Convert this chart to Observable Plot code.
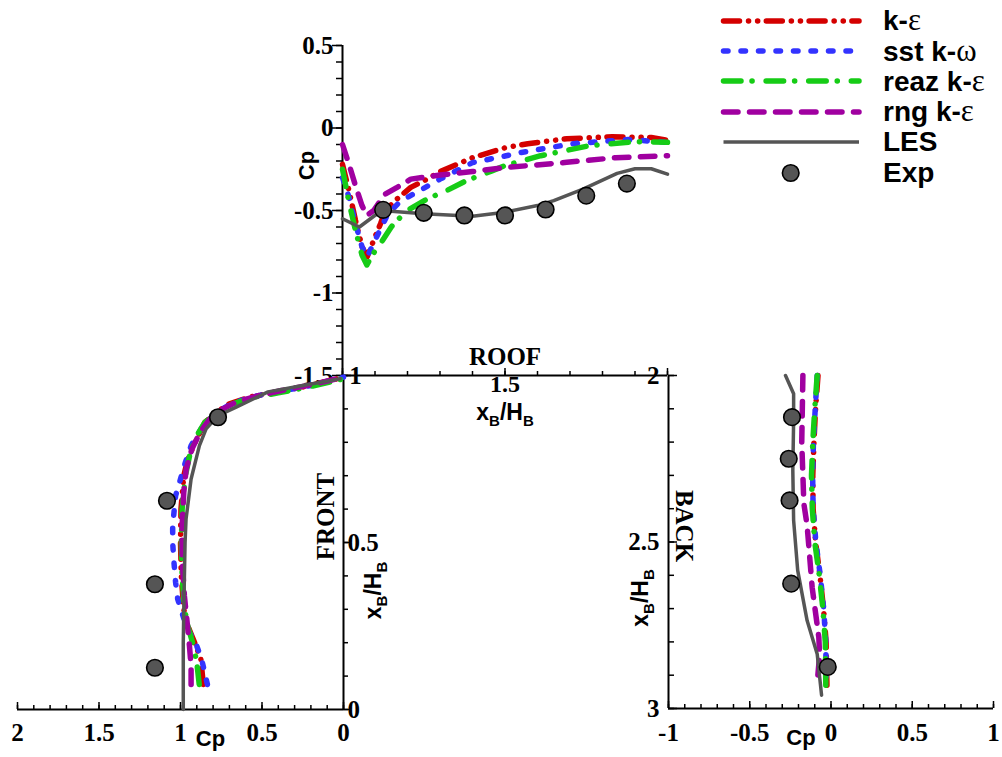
<!DOCTYPE html>
<html><head><meta charset="utf-8">
<script src="https://cdn.jsdelivr.net/npm/d3@7"></script>
<script src="https://cdn.jsdelivr.net/npm/@observablehq/plot@0.6"></script>
<style>
body{margin:0;background:#fff;}
#wrap{position:relative;width:1002px;height:757px;overflow:hidden;background:#fff;}
#legend{position:absolute;left:700px;top:5.5px;font-family:"Liberation Sans",Arial,sans-serif;font-weight:bold;font-size:28px;color:#000;}
#legend .row{display:flex;align-items:center;height:30.4px;}
#legend svg{display:block;}
#legend .lab{margin-left:18px;white-space:nowrap;line-height:30px;}
#legend .g{font-family:"Liberation Serif","Times New Roman",serif;font-weight:normal;font-size:31px;}
</style></head>
<body>
<div id="wrap"></div>
<script>
// ---------- DATA ----------
// ROOF: [x_B/H_B, Cp]
const roofKE = [[1.0,-0.22],[1.02,-0.38],[1.04,-0.56],[1.06,-0.72],[1.076,-0.78],[1.1,-0.66],[1.117,-0.58],[1.132,-0.5],[1.168,-0.43],[1.21,-0.36],[1.26,-0.31],[1.3,-0.265],[1.4,-0.18],[1.5,-0.12],[1.57,-0.095],[1.69,-0.065],[1.83,-0.053],[1.95,-0.058],[2.0,-0.075]];
const roofSST = [[1.0,-0.3],[1.02,-0.42],[1.04,-0.58],[1.06,-0.72],[1.076,-0.78],[1.1,-0.68],[1.12,-0.6],[1.14,-0.52],[1.17,-0.46],[1.2,-0.42],[1.3,-0.31],[1.4,-0.21],[1.5,-0.17],[1.55,-0.148],[1.71,-0.095],[1.88,-0.07],[2.0,-0.087]];
const roofREAZ = [[1.0,-0.25],[1.02,-0.45],[1.04,-0.62],[1.06,-0.77],[1.075,-0.83],[1.095,-0.76],[1.117,-0.7],[1.15,-0.6],[1.168,-0.56],[1.2,-0.5],[1.26,-0.43],[1.32,-0.38],[1.38,-0.32],[1.46,-0.26],[1.5,-0.228],[1.61,-0.168],[1.76,-0.107],[1.9,-0.083],[2.0,-0.087]];
const roofRNG = [[1.0,-0.1],[1.02,-0.22],[1.04,-0.35],[1.06,-0.47],[1.075,-0.53],[1.096,-0.5],[1.117,-0.44],[1.132,-0.4],[1.168,-0.36],[1.21,-0.31],[1.3,-0.285],[1.4,-0.264],[1.5,-0.24],[1.69,-0.208],[1.84,-0.18],[2.0,-0.168]];
const roofLES = [[1.0,-0.55],[1.052,-0.6],[1.12,-0.5],[1.25,-0.52],[1.4,-0.535],[1.5,-0.51],[1.6,-0.47],[1.65,-0.44],[1.74,-0.37],[1.845,-0.275],[1.9,-0.247],[1.95,-0.247],[2.0,-0.28]];
const roofExpX = [1.125,1.25,1.375,1.5,1.625,1.75,1.875];
const roofExpCp = [-0.496,-0.514,-0.53,-0.53,-0.494,-0.41,-0.337];

// FRONT: [x_B/H_B, Cp]
const frontKE = [[0.075,0.86],[0.15,0.875],[0.19,0.905],[0.25,0.955],[0.3,0.98],[0.4,0.995],[0.5,1.0],[0.6,0.997],[0.7,0.98],[0.75,0.955],[0.8,0.91],[0.86,0.85],[0.89,0.78],[0.915,0.7],[0.935,0.58],[0.95,0.42],[0.97,0.2],[0.995,0.0]];
const frontSST = [[0.075,0.835],[0.15,0.87],[0.19,0.9],[0.25,0.965],[0.33,1.017],[0.38,1.03],[0.44,1.04],[0.5,1.048],[0.55,1.048],[0.59,1.04],[0.64,1.03],[0.69,1.0],[0.74,0.97],[0.79,0.935],[0.84,0.874],[0.87,0.82],[0.895,0.76],[0.915,0.69],[0.935,0.57],[0.95,0.42],[0.97,0.2],[0.995,0.0]];
const frontREAZ = [[0.075,0.885],[0.14,0.9],[0.19,0.92],[0.25,0.955],[0.3,0.975],[0.4,0.99],[0.5,0.995],[0.6,0.99],[0.7,0.97],[0.77,0.94],[0.82,0.9],[0.86,0.85],[0.89,0.77],[0.915,0.68],[0.935,0.55],[0.948,0.4],[0.965,0.22],[0.99,0.0]];
const frontRNG = [[0.075,0.935],[0.13,0.935],[0.19,0.945],[0.24,0.955],[0.34,0.976],[0.45,0.99],[0.55,0.99],[0.65,0.98],[0.72,0.965],[0.78,0.93],[0.83,0.88],[0.87,0.82],[0.9,0.74],[0.92,0.66],[0.94,0.52],[0.955,0.38],[0.972,0.2],[0.995,0.0]];
const frontLES = [[0.0,0.983],[0.2,0.983],[0.35,0.978],[0.5,0.972],[0.57,0.966],[0.69,0.935],[0.79,0.884],[0.84,0.843],[0.88,0.77],[0.906,0.655],[0.951,0.463],[0.97,0.25],[0.99,0.02]];
const frontExpX = [0.125,0.375,0.625,0.875];
const frontExpCp = [1.157,1.157,1.083,0.77];

// BACK: [x_B/H_B, Cp]
const backKE = [[2.0,-0.08],[2.1,-0.095],[2.2,-0.105],[2.3,-0.112],[2.4,-0.11],[2.5,-0.095],[2.6,-0.068],[2.7,-0.046],[2.8,-0.03],[2.93,-0.025]];
const backSST = [[2.0,-0.085],[2.1,-0.097],[2.2,-0.108],[2.3,-0.113],[2.4,-0.11],[2.5,-0.093],[2.6,-0.066],[2.7,-0.045],[2.8,-0.032],[2.92,-0.03]];
const backREAZ = [[2.0,-0.085],[2.1,-0.1],[2.2,-0.112],[2.3,-0.12],[2.4,-0.115],[2.5,-0.1],[2.6,-0.072],[2.7,-0.05],[2.8,-0.035],[2.93,-0.032]];
const backRNG = [[2.0,-0.173],[2.2,-0.18],[2.385,-0.167],[2.45,-0.147],[2.636,-0.116],[2.786,-0.075],[2.84,-0.07],[2.906,-0.082]];
const backLES = [[2.0,-0.28],[2.055,-0.23],[2.135,-0.23],[2.285,-0.235],[2.435,-0.23],[2.585,-0.205],[2.736,-0.147],[2.836,-0.085],[2.96,-0.058]];
const backExpX = [2.125,2.25,2.375,2.625,2.875];
const backExpCp = [-0.24,-0.26,-0.255,-0.245,-0.02];

// axes / tick labels
const roofXDomain = [1, 2];
const roofYDomain = [-1.5, 0.5];
const roofXTicks = [1, 1.5, 2];
const roofYTicks = [0.5, 0, -0.5, -1, -1.5];
const frontCpDomain = [2, 0];
const frontYDomain = [0, 1];
const frontCpTicks = [2, 1.5, 1, 0.5, 0];
const frontYTicks = [0, 0.5, 1];
const backCpDomain = [-1, 1];
const backYDomain = [3, 2];
const backCpTicks = [-1, -0.5, 0, 0.5, 1];
const backYTicks = [2, 2.5, 3];

const seriesNames = ["k-ε", "sst k-ω", "reaz k-ε", "rng k-ε", "LES", "Exp"];

// ---------- STYLE ----------
const W = 1002, H = 757;
const SERIF = "Liberation Serif, Times New Roman, serif";
const SANS = "Liberation Sans, Arial, sans-serif";
const lineBase = {strokeWidth: 5.5, strokeLinecap: "round", strokeLinejoin: "round"};
const sty = {
  ke:   {...lineBase, stroke: "#d40000", strokeDasharray: "16 9 0.1 9 0.1 8.6"},
  sst:  {...lineBase, stroke: "#3333ff", strokeDasharray: "4.5 13"},
  reaz: {...lineBase, stroke: "#16cc16", strokeDasharray: "17.5 11 0.1 14"},
  rng:  {...lineBase, stroke: "#a000a0", strokeDasharray: "14.5 11.5"},
  les:  {stroke: "#555555", strokeWidth: 3.5, strokeLinejoin: "round"},
  exp:  {fill: "#555555", stroke: "#000", strokeWidth: 1.6, r: 8.3}
};
const tickLbl = {fontFamily: SERIF, fontWeight: "bold", fontSize: 25, fill: "#000", lineAnchor: "middle"};
const ttlSans = {fontFamily: SANS, fontWeight: "bold", fontSize: 22, fill: "#000", lineAnchor: "middle", textAnchor: "middle"};
const ttlSerif = {fontFamily: SERIF, fontWeight: "bold", fontSize: 25, fill: "#000", lineAnchor: "middle", textAnchor: "middle"};
const axStroke = {stroke: "#000", strokeWidth: 2};
const tkStroke = {stroke: "#000", strokeWidth: 1.5};
const sub = "xB/HB";

function minorOf(a, b) { return d3.range(Math.round(Math.min(a,b)*10), Math.round(Math.max(a,b)*10)+1).map(v => v/10); }

function seriesMarks(set, fx, fy, expX, expY) {
  return [
    Plot.line(set[0], {x: fx, y: fy, ...sty.ke}),
    Plot.line(set[1], {x: fx, y: fy, ...sty.sst}),
    Plot.line(set[2], {x: fx, y: fy, ...sty.reaz}),
    Plot.line(set[3], {x: fx, y: fy, ...sty.rng}),
    Plot.line(set[4], {x: fx, y: fy, ...sty.les}),
    Plot.dot(expX.map((v, i) => ({a: v, cp: expY[i]})), {x: fx.exp, y: fy.exp, ...sty.exp})
  ];
}

function panel(opts) {
  const svg = Plot.plot({
    width: W, height: H,
    marginLeft: opts.m[0], marginRight: opts.m[1], marginTop: opts.m[2], marginBottom: opts.m[3],
    x: {domain: opts.x, axis: null},
    y: {domain: opts.y, axis: null},
    style: {background: "transparent", overflow: "visible"},
    marks: opts.marks
  });
  svg.style.position = "absolute"; svg.style.left = "0px"; svg.style.top = "0px";
  return svg;
}

// ---------- ROOF ----------
const rfW = 325, rfH = 330;
const fxR = d => d[0]; fxR.exp = d => d.a;
const fyR = d => d[1]; fyR.exp = d => d.cp;
const roof = panel({
  m: [342, 335, 45, 382], x: roofXDomain, y: roofYDomain,
  marks: [
    Plot.ruleY(minorOf(-1.5, 0.5), {y: d => d, insetLeft: -6, insetRight: rfW, ...tkStroke}),
    Plot.ruleY(roofYTicks, {y: d => d, insetLeft: -10, insetRight: rfW, ...tkStroke}),
    Plot.ruleX(minorOf(1, 2), {x: d => d, insetTop: rfH - 4, ...tkStroke}),
    Plot.ruleX(roofXTicks, {x: d => d, insetTop: rfH - 7, ...tkStroke}),
    Plot.ruleX([roofXDomain[0]], {x: d => d, ...axStroke}),
    Plot.ruleY([roofYDomain[0]], {y: d => d, ...axStroke}),
    Plot.text(roofYTicks, {y: d => d, frameAnchor: "left", dx: -9, textAnchor: "end", text: d => String(d), ...tickLbl}),
    // "1" is shared with the FRONT axis; "2" is shared with the BACK axis (drawn there)
    Plot.text(roofXTicks.slice(0, 1), {x: d => d, frameAnchor: "bottom", dx: 13, textAnchor: "middle", text: d => String(d), ...tickLbl}),
    Plot.text(roofXTicks.slice(1, 2), {x: d => d, frameAnchor: "bottom", dy: 9, textAnchor: "middle", text: d => String(d), ...tickLbl, fontSize: 24}),
    Plot.text(["ROOF"], {frameAnchor: "bottom", dy: -19, text: d => d, ...ttlSerif}),
    Plot.text([sub], {frameAnchor: "bottom", dy: 37, text: d => d, ...ttlSans, fontSize: 23}),
    Plot.text(["Cp"], {frameAnchor: "left", dx: -36, dy: -45, rotate: -90, text: d => d, ...ttlSans}),
    ...seriesMarks([roofKE, roofSST, roofREAZ, roofRNG, roofLES], fxR, fyR, roofExpX, roofExpCp)
  ]
});

// ---------- FRONT ----------
const ftW = 326, ftH = 334;
const fxF = d => d[1]; fxF.exp = d => d.cp;
const fyF = d => d[0]; fyF.exp = d => d.a;
const front = panel({
  m: [17, 659, 375, 48], x: frontCpDomain, y: frontYDomain,
  marks: [
    Plot.ruleY(minorOf(0, 1), {y: d => d, insetLeft: ftW, insetRight: -5, ...tkStroke}),
    Plot.ruleY(frontYTicks, {y: d => d, insetLeft: ftW, insetRight: -8, ...tkStroke}),
    Plot.ruleX(minorOf(0, 2), {x: d => d, insetTop: ftH - 4, ...tkStroke}),
    Plot.ruleX(frontCpTicks, {x: d => d, insetTop: ftH - 7, ...tkStroke}),
    Plot.ruleX([frontCpDomain[1]], {x: d => d, ...axStroke}),
    Plot.ruleY([frontYDomain[0]], {y: d => d, ...axStroke}),
    Plot.text(frontCpTicks, {x: d => d, frameAnchor: "bottom", dy: 23, textAnchor: "middle", text: d => String(d), ...tickLbl}),
    Plot.text(frontYTicks.slice(0, 2), {y: d => d, frameAnchor: "right", dx: 4, textAnchor: "start", text: d => String(d), ...tickLbl}),
    Plot.text(["Cp"], {frameAnchor: "bottom", dx: 30, dy: 29, text: d => d, ...ttlSans}),
    Plot.text(["FRONT"], {frameAnchor: "right", dx: -18, dy: -26, rotate: -90, text: d => d, ...ttlSerif}),
    Plot.text([sub], {frameAnchor: "right", dx: 30, dy: 48, rotate: -90, text: d => d, ...ttlSans, fontSize: 23}),
    ...seriesMarks([frontKE, frontSST, frontREAZ, frontRNG, frontLES], fxF, fyF, frontExpX, frontExpCp)
  ]
});

// ---------- BACK ----------
const bkW = 325, bkH = 333;
const back = panel({
  m: [668, 9, 375, 49], x: backCpDomain, y: backYDomain,
  marks: [
    Plot.ruleY(minorOf(2, 3), {y: d => d, insetRight: bkW - 6, ...tkStroke}),
    Plot.ruleY(backYTicks, {y: d => d, insetRight: bkW - 9, ...tkStroke}),
    Plot.ruleX(minorOf(-1, 1), {x: d => d, insetTop: bkH - 4, ...tkStroke}),
    Plot.ruleX(backCpTicks, {x: d => d, insetTop: bkH - 7, ...tkStroke}),
    Plot.ruleX([backCpDomain[0]], {x: d => d, ...axStroke}),
    Plot.ruleY([backYDomain[0]], {y: d => d, ...axStroke}),
    Plot.text(backCpTicks, {x: d => d, frameAnchor: "bottom", dy: 24, textAnchor: "middle", text: d => String(d), ...tickLbl}),
    Plot.text(backYTicks, {y: d => d, frameAnchor: "left", dx: -9, textAnchor: "end", text: d => String(d), ...tickLbl}),
    Plot.text(["Cp"], {frameAnchor: "bottom", dx: -30, dy: 29, text: d => d, ...ttlSans}),
    Plot.text(["BACK"], {frameAnchor: "left", dx: 15, dy: -16, rotate: 90, text: d => d, ...ttlSerif}),
    Plot.text([sub], {frameAnchor: "left", dx: -28, dy: 56, rotate: -90, text: d => d, ...ttlSans, fontSize: 23}),
    ...seriesMarks([backKE, backSST, backREAZ, backRNG, backLES], fxF, fyF, backExpX, backExpCp)
  ]
});

const wrap = document.getElementById("wrap");
[roof, front, back].forEach(s => wrap.appendChild(s));

// subscripts for x_B/H_B
d3.select(wrap).selectAll("text").filter(function() { return this.textContent === sub; }).each(function() {
  const t = d3.select(this);
  t.text(null);
  t.append("tspan").text("x");
  t.append("tspan").attr("font-size", 15).attr("dy", 6).text("B");
  t.append("tspan").attr("dy", -6).text("/H");
  t.append("tspan").attr("font-size", 15).attr("dy", 6).text("B");
});

// ---------- LEGEND ----------
const leg = document.createElement("div");
leg.id = "legend";
const legKeys = ["ke", "sst", "reaz", "rng", "les", "exp"];
legKeys.forEach((k, i) => {
  const row = document.createElement("div");
  row.className = "row";
  let g;
  if (k === "exp") {
    g = `<circle cx="90.7" cy="15" r="${sty.exp.r}" fill="${sty.exp.fill}" stroke="#000" stroke-width="${sty.exp.strokeWidth}"/>`;
  } else {
    const s = sty[k];
    g = `<line x1="23.5" x2="159" y1="15" y2="15" stroke="${s.stroke}" stroke-width="${s.strokeWidth}" stroke-linecap="${s.strokeLinecap || "butt"}" ${s.strokeDasharray ? `stroke-dasharray="${s.strokeDasharray}"` : ""}/>`;
  }
  const name = seriesNames[i].replace(/([εω])/g, '<span class="g">$1</span>');
  row.innerHTML = `<svg width="165" height="30">${g}</svg><span class="lab">${name}</span>`;
  leg.appendChild(row);
});
wrap.appendChild(leg);
</script>
</body></html>
